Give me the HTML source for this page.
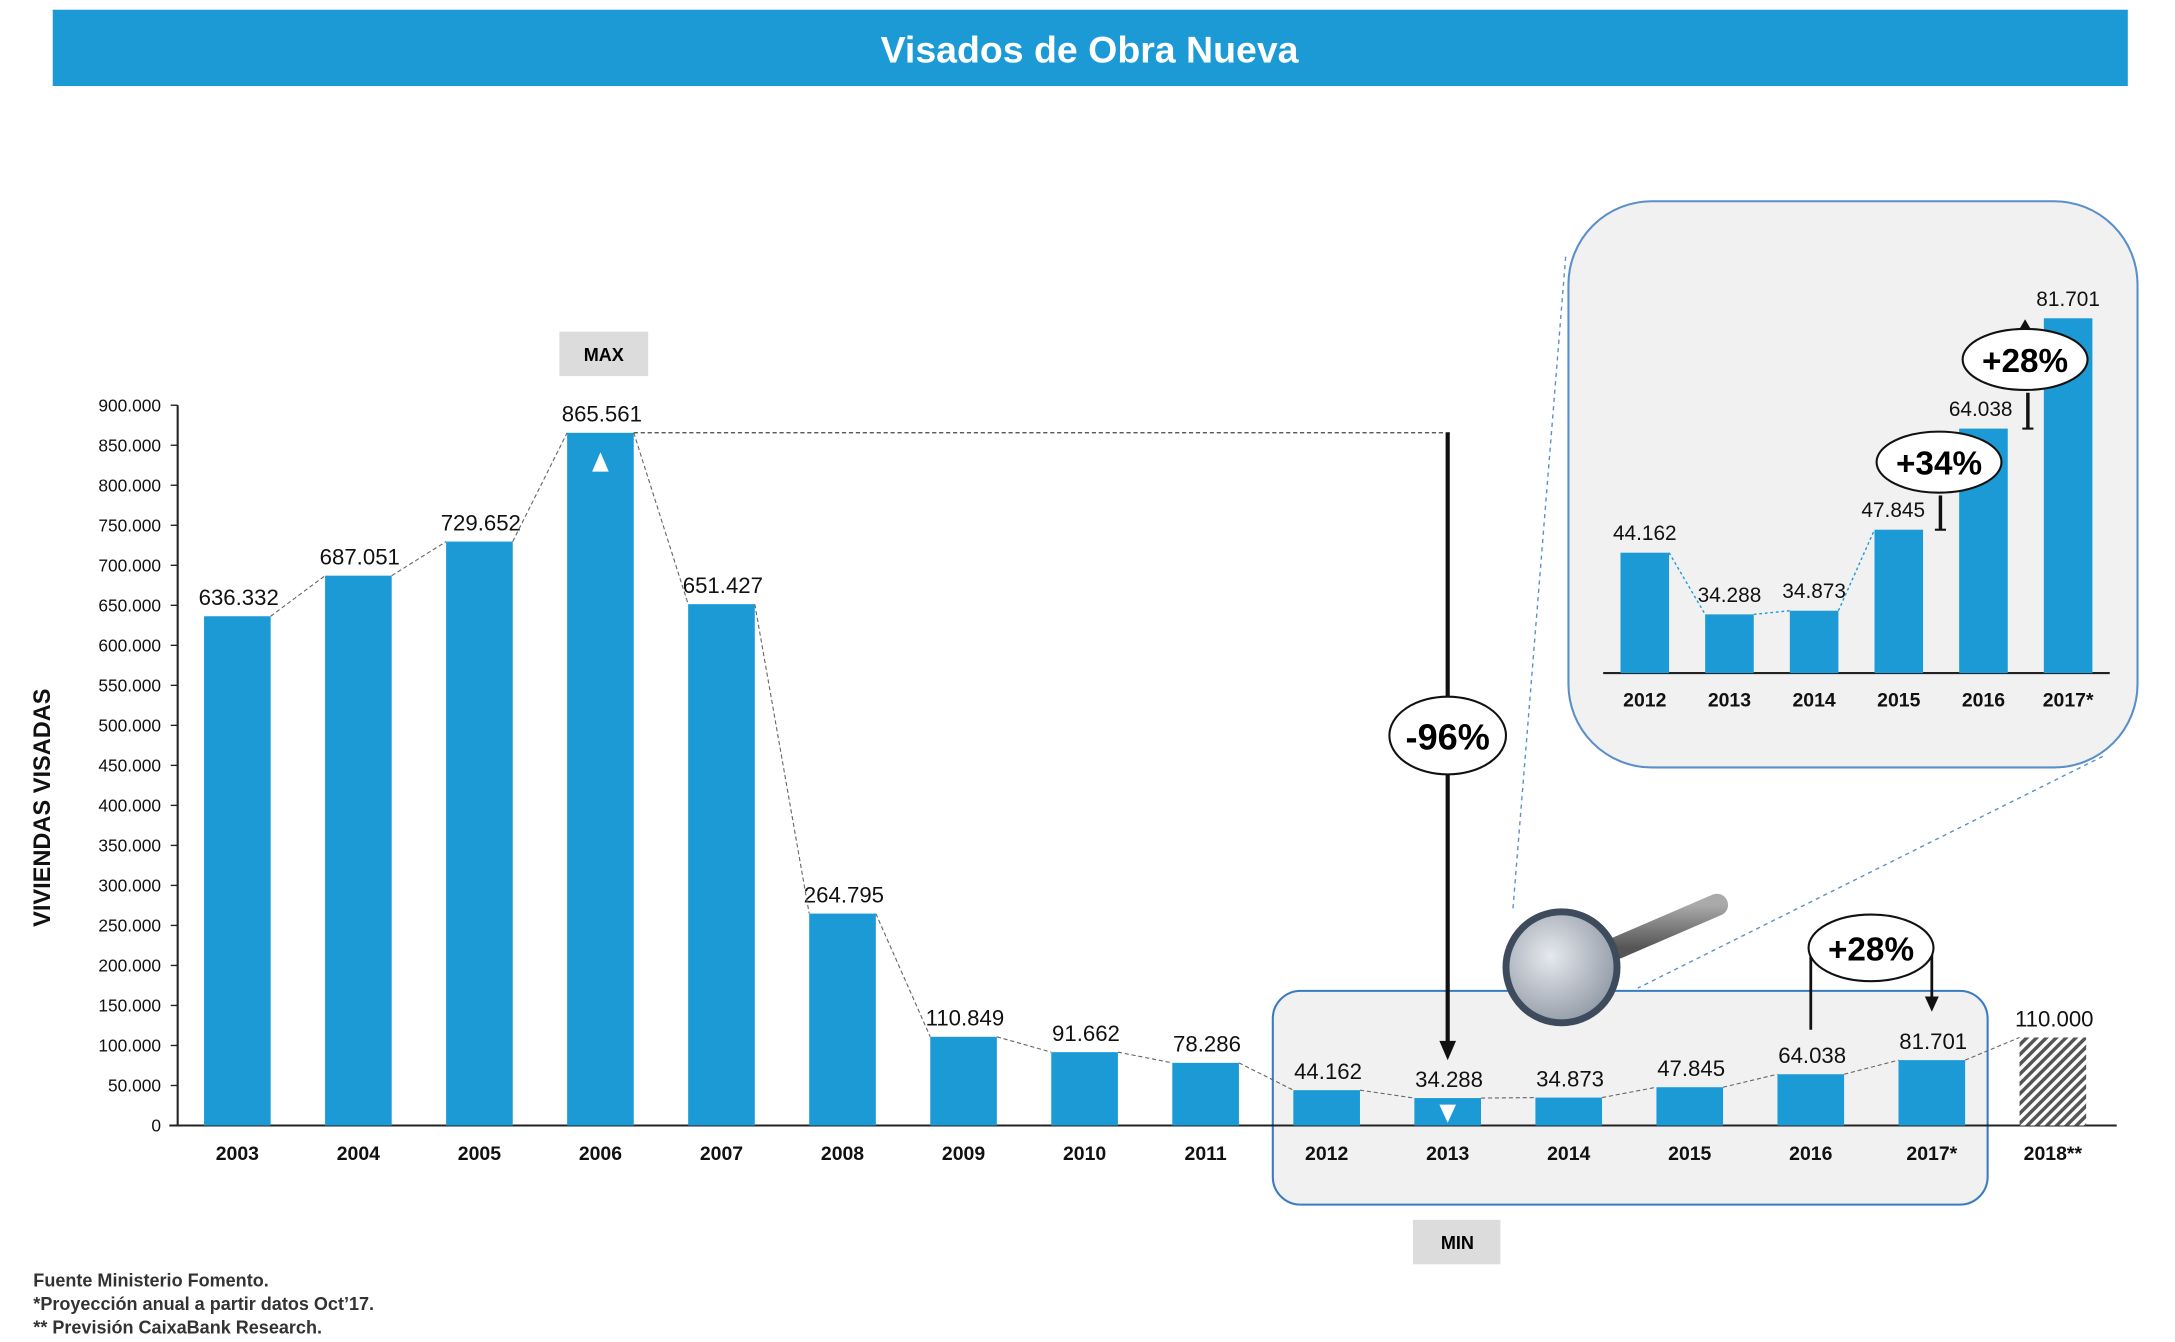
<!DOCTYPE html>
<html><head><meta charset="utf-8"><style>
html,body{margin:0;padding:0;background:#fff;width:2175px;height:1342px;overflow:hidden}
svg{display:block}
text{font-family:"Liberation Sans",sans-serif}
</style></head><body>
<svg id="chart" width="2175" height="1342" viewBox="0 0 1567 967" preserveAspectRatio="none" xmlns="http://www.w3.org/2000/svg">
<defs>
<pattern id="hatch" width="5" height="5" patternUnits="userSpaceOnUse" patternTransform="rotate(45)"><rect width="5" height="5" fill="#fff"/><rect width="2.5" height="5" fill="#555"/></pattern>
<radialGradient id="lens" cx="0.4" cy="0.4" r="0.7"><stop offset="0" stop-color="#e6e9ee"/><stop offset="1" stop-color="#8a93a0"/></radialGradient>
<linearGradient id="handle" x1="0" y1="0" x2="0" y2="1"><stop offset="0" stop-color="#aaa"/><stop offset="1" stop-color="#555"/></linearGradient>
</defs>
<rect x="38" y="7" width="1495" height="55" fill="#1b9ad6"/>
<text x="785" y="45" fill="#fff" font-size="27" font-weight="bold" text-anchor="middle">Visados de Obra Nueva</text>
<text transform="translate(36,582) rotate(-90)" font-size="17" font-weight="bold" text-anchor="middle" fill="#111">VIVIENDAS VISADAS</text>
<rect x="917" y="714" width="515" height="154" rx="20" fill="#f1f1f1" stroke="#3a7cc0" stroke-width="1.5"/>
<g id="axes"></g>
<g id="bars"></g>
<rect x="403" y="239" width="64" height="32" fill="#dcdcdc"/>
<text x="435" y="260" font-size="13" font-weight="bold" text-anchor="middle">MAX</text>
<rect x="1018" y="879" width="63" height="32" fill="#dcdcdc"/>
<text x="1050" y="900" font-size="13" font-weight="bold" text-anchor="middle">MIN</text>
<g id="annot"></g>
<g>
<line x1="1165" y1="683" x2="1237" y2="652" stroke="url(#handle)" stroke-width="16" stroke-linecap="round"/>
<circle cx="1125" cy="697" r="40" fill="url(#lens)" stroke="#3d4b5c" stroke-width="5"/>
</g>
<line x1="1128" y1="185" x2="1090" y2="655" stroke="#5b8fc9" stroke-dasharray="3,3" stroke-width="1"/>
<line x1="1515" y1="545" x2="1180" y2="712" stroke="#5b8fc9" stroke-dasharray="3,3" stroke-width="1"/>
<rect x="1130" y="145" width="410" height="408" rx="60" fill="#f1f1f1" stroke="#5b8fc9" stroke-width="1.5"/>
<g id="inset"></g>
<text x="24" y="927" font-size="13" font-weight="bold" fill="#333">Fuente Ministerio Fomento.</text>
<text x="24" y="944" font-size="13" font-weight="bold" fill="#333">*Proyección anual a partir datos Oct’17.</text>
<text x="24" y="961" font-size="13" font-weight="bold" fill="#333">** Previsión CaixaBank Research.</text>
</svg>
<script>
const categories=["2003","2004","2005","2006","2007","2008","2009","2010","2011","2012","2013","2014","2015","2016","2017*","2018**"];
const values=[636332,687051,729652,865561,651427,264795,110849,91662,78286,44162,34288,34873,47845,64038,81701,110000];
const valueLabels=["636.332","687.051","729.652","865.561","651.427","264.795","110.849","91.662","78.286","44.162","34.288","34.873","47.845","64.038","81.701","110.000"];
const yTicks=[0,50000,100000,150000,200000,250000,300000,350000,400000,450000,500000,550000,600000,650000,700000,750000,800000,850000,900000];
const yTickLabels=["0","50.000","100.000","150.000","200.000","250.000","300.000","350.000","400.000","450.000","500.000","550.000","600.000","650.000","700.000","750.000","800.000","850.000","900.000"];
const insetCategories=["2012","2013","2014","2015","2016","2017*"];
const insetValues=[44162,34288,34873,47845,64038,81701];
const insetLabels=["44.162","34.288","34.873","47.845","64.038","81.701"];

const NS="http://www.w3.org/2000/svg";
function mk(tag,attrs,parent,txt){const e=document.createElementNS(NS,tag);for(const k in attrs)e.setAttribute(k,attrs[k]);if(txt!==undefined)e.textContent=txt;parent.appendChild(e);return e;}
const y=v=>811-v/900000*519;
const x=i=>171+i*87.2;
const BW=48;
const axes=document.getElementById('axes'),bars=document.getElementById('bars'),annot=document.getElementById('annot'),inset=document.getElementById('inset');
let e;
e=mk('line',{x1:128,y1:292,x2:128,y2:811,stroke:'#222','stroke-width':1.5},axes);


e=mk('line',{x1:122,y1:811,x2:1525,y2:811,stroke:'#222','stroke-width':1.5},axes);


yTicks.forEach((t,i)=>{
  mk('line',{x1:123,y1:y(t),x2:128,y2:y(t),stroke:'#222'},axes);
  e=mk('text',{x:116,y:y(t)+4.5,'font-size':12.5,'text-anchor':'end',fill:'#111'},axes,yTickLabels[i]);
  
  
});
values.forEach((v,i)=>{
  const last=i===values.length-1;
  e=mk('rect',{x:x(i)-BW/2,y:y(v),width:BW,height:811-y(v),fill:last?'url(#hatch)':'#1b9ad6'},bars);
  
  
  e=mk('text',{x:x(i)+1,y:y(v)-8,'font-size':16,'text-anchor':'middle',fill:'#111'},bars,valueLabels[i]);
  
  
  e=mk('text',{x:x(i),y:836,'font-size':14,'font-weight':'bold','text-anchor':'middle',fill:'#111'},bars,categories[i]);
  
  
  if(i>0){
    e=mk('line',{x1:x(i-1)+BW/2,y1:y(values[i-1]),x2:x(i)-BW/2,y2:y(v),stroke:'#666','stroke-dasharray':'3,2','stroke-width':0.8},bars);
    
    
  }
});
const iMax=values.indexOf(Math.max(...values));
const yMax=y(values[iMax]);
e=mk('polygon',{points:`${x(iMax)},${yMax+14} ${x(iMax)-6},${yMax+28} ${x(iMax)+6},${yMax+28}`,fill:'#fff'},annot);


const iMin=10;
e=mk('polygon',{points:`${x(iMin)-6},796 ${x(iMin)+6},796 ${x(iMin)},809`,fill:'#fff'},annot);


e=mk('line',{x1:x(iMax)+BW/2,y1:yMax,x2:x(iMin)+2,y2:yMax,stroke:'#444','stroke-dasharray':'3,2','stroke-width':0.9},annot);


mk('line',{x1:x(iMin),y1:yMax,x2:x(iMin),y2:752,stroke:'#111','stroke-width':3},annot);
mk('polygon',{points:`${x(iMin)-6},750 ${x(iMin)+6},750 ${x(iMin)},764`,fill:'#111'},annot);
e=mk('ellipse',{cx:x(iMin),cy:530,rx:42,ry:28,fill:'#fff',stroke:'#111','stroke-width':1.5},annot);


mk('text',{x:x(iMin),y:540,'font-size':26,'font-weight':'bold','text-anchor':'middle'},annot,'-96%');
mk('line',{x1:x(13),y1:683,x2:x(13),y2:742,stroke:'#111','stroke-width':2},annot);
mk('line',{x1:x(14),y1:683,x2:x(14),y2:722,stroke:'#111','stroke-width':2},annot);
mk('polygon',{points:`${x(14)-5},718 ${x(14)+5},718 ${x(14)},729`,fill:'#111'},annot);
e=mk('ellipse',{cx:1348,cy:683,rx:45,ry:24,fill:'#fff',stroke:'#111','stroke-width':1.5},annot);


mk('text',{x:1348,y:692,'font-size':24,'font-weight':'bold','text-anchor':'middle'},annot,'+28%');
const iy=v=>597-v*0.0045;
const ix=i=>1185+i*61;
const IBW=35;
mk('line',{x1:1155,y1:485,x2:1520,y2:485,stroke:'#222','stroke-width':1.5},inset);
insetValues.forEach((v,i)=>{
  e=mk('rect',{x:ix(i)-IBW/2,y:iy(v),width:IBW,height:485-iy(v),fill:'#1b9ad6'},inset);
  
  
  const lx=i===4?-2:(i===3?-4:0);
  e=mk('text',{x:ix(i)+lx,y:iy(v)-9,'font-size':15,'text-anchor':'middle',fill:'#111'},inset,insetLabels[i]);
  
  
  e=mk('text',{x:ix(i),y:509,'font-size':14,'font-weight':'bold','text-anchor':'middle',fill:'#111'},inset,insetCategories[i]);
  
  
  if(i>0&&i<4){
    mk('line',{x1:ix(i-1)+IBW/2,y1:iy(insetValues[i-1]),x2:ix(i)-IBW/2,y2:iy(v),stroke:'#1b9ad6','stroke-dasharray':'2,2','stroke-width':1},inset);
  }
});
function bracket(x0,ya,yb){
  mk('line',{x1:x0,y1:ya,x2:x0,y2:yb,stroke:'#111','stroke-width':2.5},inset);
  mk('line',{x1:x0-4,y1:ya,x2:x0+4,y2:ya,stroke:'#111','stroke-width':1.5},inset);
}
bracket(1398,iy(insetValues[3]),357);
bracket(1461,iy(insetValues[4]),283);
mk('polygon',{points:`1455,237 1463,237 1459,230`,fill:'#111'},inset);
e=mk('ellipse',{cx:1397,cy:333,rx:45,ry:22,fill:'#fff',stroke:'#111','stroke-width':1.5},inset);


mk('text',{x:1397,y:342,'font-size':24,'font-weight':'bold','text-anchor':'middle'},inset,'+34%');
e=mk('ellipse',{cx:1459,cy:259,rx:45,ry:22,fill:'#fff',stroke:'#111','stroke-width':1.5},inset);


mk('text',{x:1459,y:268,'font-size':24,'font-weight':'bold','text-anchor':'middle'},inset,'+28%');
</script>
</body></html>
